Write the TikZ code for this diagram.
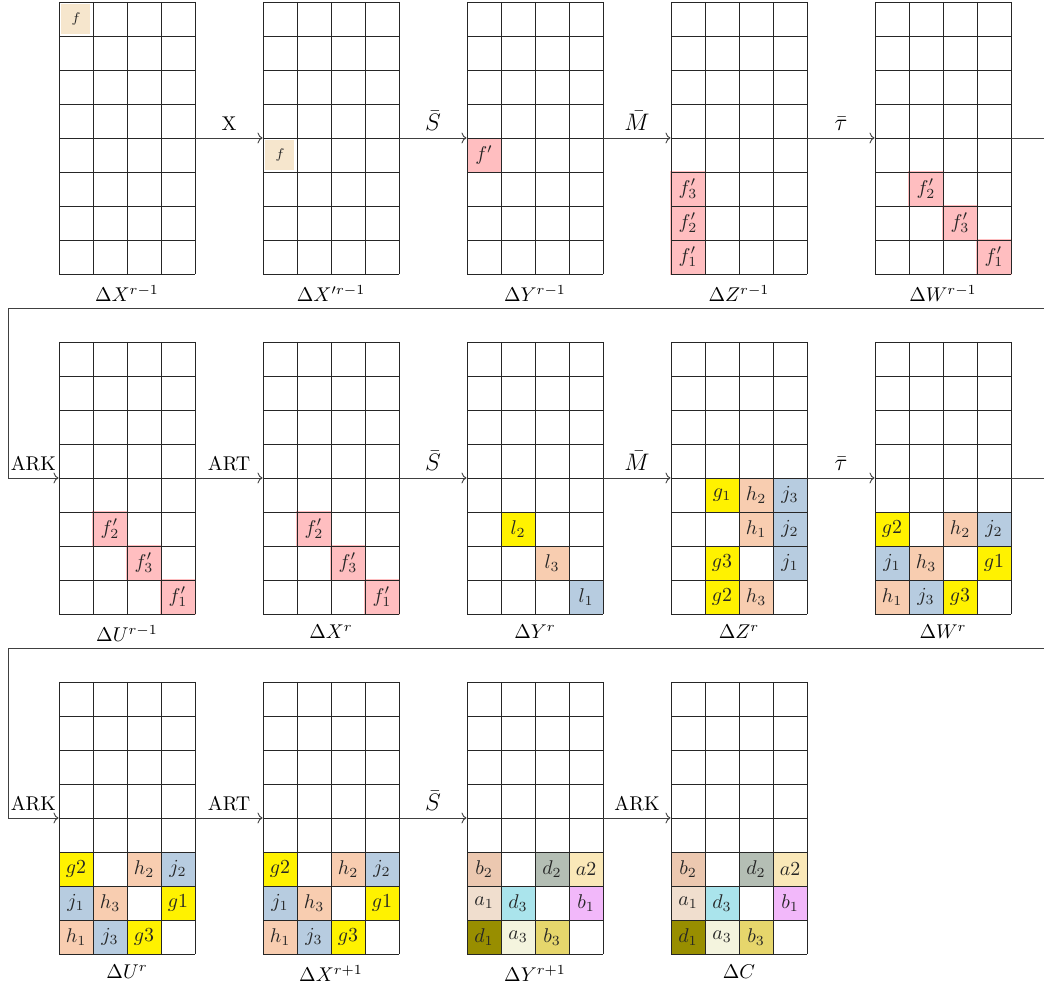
\documentclass[tikz,border=0pt]{standalone}
\usetikzlibrary{arrows.meta}
\definecolor{fbeige}{RGB}{246,230,205}
\definecolor{fred}{RGB}{255,190,192}
\definecolor{gyel}{RGB}{255,242,0}
\definecolor{hpeach}{RGB}{248,205,176}
\definecolor{jblue}{RGB}{183,204,224}
\definecolor{btan}{RGB}{236,200,176}
\definecolor{dgray}{RGB}{180,190,180}
\definecolor{alight}{RGB}{250,232,184}
\definecolor{abeige}{RGB}{240,222,206}
\definecolor{dcyan}{RGB}{170,228,236}
\definecolor{bviolet}{RGB}{242,184,250}
\definecolor{dolive}{RGB}{152,142,0}
\definecolor{aivory}{RGB}{244,244,222}
\definecolor{bkhaki}{RGB}{230,214,108}
\tikzset{
  gridbox/.style={minimum width=2.4cm, minimum height=4.8cm, inner sep=0pt, draw=none},
  gridlabel/.style={anchor=north, font=\normalsize},
  gridline/.style={draw=black!85, line width=0.45pt},
  celltext/.style={font=\normalsize, inner sep=0pt, text=black!85},
  smalltext/.style={font=\scriptsize, inner sep=0pt, text=black!85},
  conn/.style={draw=black!75, line width=0.45pt, ->},
  lab/.style={above, font=\normalsize},
  mlab/.style={above, font=\fontsize{13}{15}\selectfont}
}
% cell fill + text (local grid coordinates: column, row)
\newcommand\ccell[5][celltext]{\fill[#4] (34*#2,34*#3) rectangle ++(34,34);
  \node[#1] (\cg-#2-#3) at (34*#2+17,34*#3+17) {#5};}
\newcommand\icell[3]{\fill[#3] (34*#1+2,34*#2+2) rectangle (34*#1+31,34*#2+32);
  \node[smalltext] (\cg-#1-#2) at (34*#1+17,34*#2+17) {$f$};}
\newcommand\rcell[3]{\fill[fred] (34*#1-1,34*#2-1) rectangle ++(36,36);
  \node[celltext] (\cg-#1-#2) at (34*#1+17,34*#2+17) {#3};}
\newcommand\gridlines{%
  \foreach \i in {0,...,4} \draw[gridline] (34*\i,0) -- (34*\i,272);
  \foreach \j in {0,...,8} \draw[gridline] (0,34*\j) -- (136,34*\j);}
\newcommand\dgrid[4]{%
  \node[gridbox] (#1) at (#2+68,#3+136) {};
  \node[gridlabel] (#1l) at (#2+68,#3+276) {#4};}
% the W/U pattern
\newcommand\wpattern{%
  \ccell{0}{5}{gyel}{$g2$}\ccell{2}{5}{hpeach}{$h_2$}\ccell{3}{5}{jblue}{$j_2$}
  \ccell{0}{6}{jblue}{$j_1$}\ccell{1}{6}{hpeach}{$h_3$}\ccell{3}{6}{gyel}{$g1$}
  \ccell{0}{7}{hpeach}{$h_1$}\ccell{1}{7}{jblue}{$j_3$}\ccell{2}{7}{gyel}{$g3$}}
\newcommand\cpattern{%
  \ccell{0}{5}{btan}{$b_2$}\ccell{2}{5}{dgray}{$d_2$}\ccell{3}{5}{alight}{$a2$}
  \ccell{0}{6}{abeige}{$a_1$}\ccell{1}{6}{dcyan}{$d_3$}\ccell{3}{6}{bviolet}{$b_1$}
  \ccell{0}{7}{dolive}{$d_1$}\ccell{1}{7}{aivory}{$a_3$}\ccell{2}{7}{bkhaki}{$b_3$}}
\newcommand\fpattern{\rcell{1}{5}{$f'_2$}\rcell{2}{6}{$f'_3$}\rcell{3}{7}{$f'_1$}}
\begin{document}
\begin{tikzpicture}[x=0.017647cm, y=-0.017647cm]
\useasboundingbox (0,0) rectangle (1044,991);
\clip (0,0) rectangle (1044,991);
% ---------------- row 1
\begin{scope}[shift={(59,2)}]\def\cg{a1}\icell{0}{0}{fbeige}\gridlines\end{scope}
\dgrid{a1}{59}{2}{$\Delta X^{r-1}$}
\begin{scope}[shift={(263,2)}]\def\cg{a2}\icell{0}{4}{fbeige}\gridlines\end{scope}
\dgrid{a2}{263}{2}{$\Delta X'^{r-1}$}
\begin{scope}[shift={(467,2)}]\def\cg{a3}\ccell{0}{4}{fred}{$f'$}\gridlines\end{scope}
\dgrid{a3}{467}{2}{$\Delta Y^{r-1}$}
\begin{scope}[shift={(671,2)}]\def\cg{a4}\rcell{0}{5}{$f'_3$}\rcell{0}{6}{$f'_2$}\rcell{0}{7}{$f'_1$}\gridlines\end{scope}
\dgrid{a4}{671}{2}{$\Delta Z^{r-1}$}
\begin{scope}[shift={(875,2)}]\def\cg{a5}\fpattern\gridlines\end{scope}
\dgrid{a5}{875}{2}{$\Delta W^{r-1}$}
% ---------------- row 2
\begin{scope}[shift={(59,342)}]\def\cg{b1}\fpattern\gridlines\end{scope}
\dgrid{b1}{59}{342}{$\Delta U^{r-1}$}
\begin{scope}[shift={(263,342)}]\def\cg{b2}\fpattern\gridlines\end{scope}
\dgrid{b2}{263}{342}{$\Delta X^{r}$}
\begin{scope}[shift={(467,342)}]\def\cg{b3}
  \ccell{1}{5}{gyel}{$l_2$}\ccell{2}{6}{hpeach}{$l_3$}\ccell{3}{7}{jblue}{$l_1$}\gridlines\end{scope}
\dgrid{b3}{467}{342}{$\Delta Y^{r}$}
\begin{scope}[shift={(671,342)}]\def\cg{b4}
  \ccell{1}{4}{gyel}{$g_1$}\ccell{2}{4}{hpeach}{$h_2$}\ccell{3}{4}{jblue}{$j_3$}
  \ccell{2}{5}{hpeach}{$h_1$}\ccell{3}{5}{jblue}{$j_2$}
  \ccell{1}{6}{gyel}{$g3$}\ccell{3}{6}{jblue}{$j_1$}
  \ccell{1}{7}{gyel}{$g2$}\ccell{2}{7}{hpeach}{$h_3$}\gridlines\end{scope}
\dgrid{b4}{671}{342}{$\Delta Z^{r}$}
\begin{scope}[shift={(875,342)}]\def\cg{b5}\wpattern\gridlines\end{scope}
\dgrid{b5}{875}{342}{$\Delta W^{r}$}
% ---------------- row 3
\begin{scope}[shift={(59,682)}]\def\cg{c1}\wpattern\gridlines\end{scope}
\dgrid{c1}{59}{682}{$\Delta U^{r}$}
\begin{scope}[shift={(263,682)}]\def\cg{c2}\wpattern\gridlines\end{scope}
\dgrid{c2}{263}{682}{$\Delta X^{r+1}$}
\begin{scope}[shift={(467,682)}]\def\cg{c3}\cpattern\gridlines\end{scope}
\dgrid{c3}{467}{682}{$\Delta Y^{r+1}$}
\begin{scope}[shift={(671,682)}]\def\cg{c4}\cpattern\gridlines\end{scope}
\dgrid{c4}{671}{682}{$\Delta C$}
% ---------------- connectors
\draw[conn] (a1.east) -- node[lab] {X} (a2.west);
\draw[conn] (a2.east) -- node[mlab] {$\bar S$} (a3.west);
\draw[conn] (a3.east) -- node[mlab] {$\bar M$} (a4.west);
\draw[conn] (a4.east) -- node[mlab] {$\bar\tau$} (a5.west);
\coordinate (t1) at (1080,308);
\coordinate (w1) at (8,308);
\draw[conn] (a5.east) -| (t1) -- (w1) |- node[lab, pos=0.75] {ARK} (b1.west);
\draw[conn] (b1.east) -- node[lab] {ART} (b2.west);
\draw[conn] (b2.east) -- node[mlab] {$\bar S$} (b3.west);
\draw[conn] (b3.east) -- node[mlab] {$\bar M$} (b4.west);
\draw[conn] (b4.east) -- node[mlab] {$\bar\tau$} (b5.west);
\coordinate (t2) at (1080,648);
\coordinate (w2) at (8,648);
\draw[conn] (b5.east) -| (t2) -- (w2) |- node[lab, pos=0.75] {ARK} (c1.west);
\draw[conn] (c1.east) -- node[lab] {ART} (c2.west);
\draw[conn] (c2.east) -- node[mlab] {$\bar S$} (c3.west);
\draw[conn] (c3.east) -- node[lab] {ARK} (c4.west);
\end{tikzpicture}
\end{document}
